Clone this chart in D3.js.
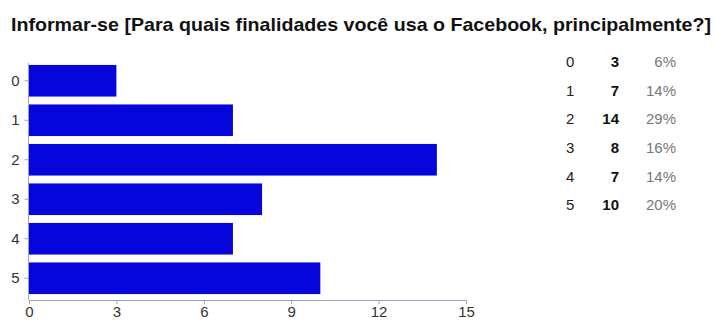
<!DOCTYPE html>
<html>
<head>
<meta charset="utf-8">
<script src="https://cdn.jsdelivr.net/npm/d3@7"></script>
<style>
  html, body { margin: 0; padding: 0; background: #fff; }
  svg { display: block; font-family: "Liberation Sans", Arial, sans-serif; }
</style>
</head>
<body>
<svg id="chart" width="714" height="320"></svg>
<script>
// Survey answers: how much people use Facebook to get informed (scale 0–5)
const title = "Informar-se [Para quais finalidades você usa o Facebook, principalmente?]";
const categories = ["0", "1", "2", "3", "4", "5"];
const counts = [3, 7, 14, 8, 7, 10];
const percents = ["6%", "14%", "29%", "16%", "14%", "20%"];
const xTicks = [0, 3, 6, 9, 12, 15];

const svg = d3.select("#chart");

svg.append("text")
  .attr("x", 11)
  .attr("y", 31)
  .attr("font-size", 19)
  .attr("font-weight", "bold")
  .attr("fill", "#111")
  .attr("textLength", 700)
  .attr("lengthAdjust", "spacingAndGlyphs")
  .text(title);

const x = d3.scaleLinear().domain([0, 15]).range([29, 466]);
const y = d3.scaleBand().domain(categories).range([61, 298])
  .paddingInner(0.2).paddingOuter(0.1);

// bars
svg.append("g").selectAll("rect")
  .data(categories)
  .join("rect")
  .attr("x", x(0))
  .attr("y", d => y(d))
  .attr("width", (d, i) => x(counts[i]) - x(0))
  .attr("height", y.bandwidth())
  .attr("fill", "#0505dc");

const axisColor = "#9aa3c8";

// x axis
const xAxis = svg.append("g")
  .attr("transform", "translate(0,300)")
  .call(d3.axisBottom(x).tickValues(xTicks).tickSize(4).tickPadding(2));
xAxis.select(".domain").attr("stroke", axisColor).attr("d", `M${x(0)},0.5H${x(15)}`);
xAxis.selectAll(".tick line").attr("stroke", axisColor);
xAxis.selectAll(".tick text").attr("font-size", 15).attr("fill", "#333")
  .attr("font-family", "Liberation Sans, Arial, sans-serif");

// y axis
const yAxis = svg.append("g")
  .attr("transform", `translate(${x(0) - 0.5},0)`)
  .call(d3.axisLeft(y).tickSize(4).tickPadding(5));
yAxis.select(".domain").attr("stroke", axisColor).attr("d", "M0,63V300");
yAxis.selectAll(".tick line").attr("stroke", axisColor);
yAxis.selectAll(".tick text").attr("font-size", 15).attr("fill", "#333")
  .attr("font-family", "Liberation Sans, Arial, sans-serif");

// summary table
const rowY = d3.scaleLinear().domain([0, 5]).range([62, 205]);
const table = svg.append("g").attr("font-size", 15);
const rows = table.selectAll("g").data(categories).join("g")
  .attr("transform", (d, i) => `translate(0,${rowY(i)})`);
rows.append("text").attr("x", 566).attr("dy", "0.35em").attr("fill", "#222").text(d => d);
rows.append("text").attr("x", 619).attr("dy", "0.35em").attr("text-anchor", "end")
  .attr("font-weight", "bold").attr("fill", "#111").text((d, i) => counts[i]);
rows.append("text").attr("x", 676).attr("dy", "0.35em").attr("text-anchor", "end")
  .attr("fill", "#777").text((d, i) => percents[i]);
</script>
</body>
</html>
